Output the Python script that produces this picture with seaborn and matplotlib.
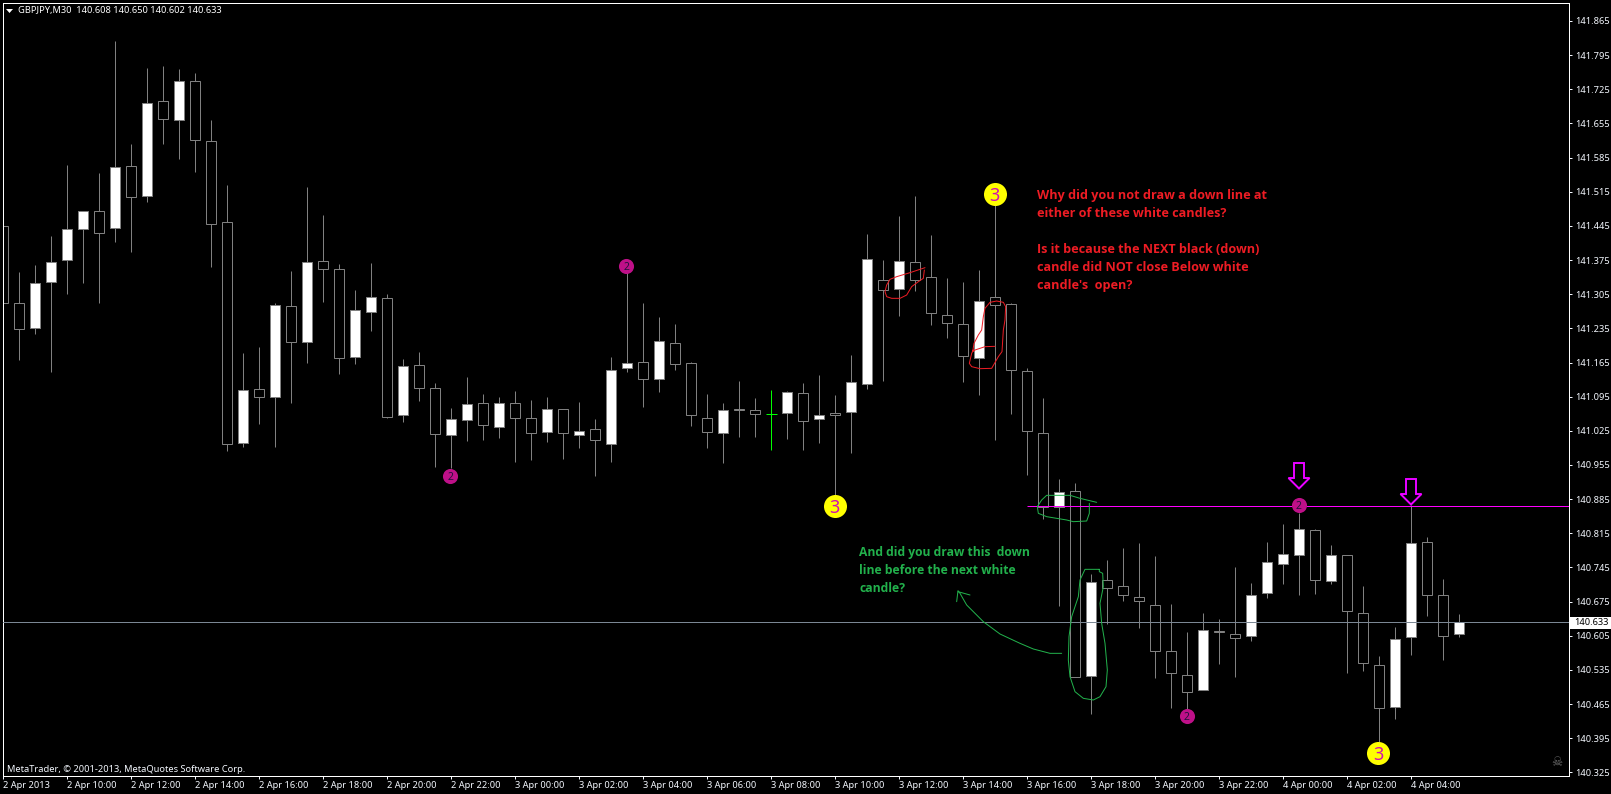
import matplotlib
matplotlib.use("Agg")
import matplotlib.pyplot as plt
from matplotlib.patches import Polygon, Rectangle
from matplotlib.transforms import Affine2D
import numpy as np
import pandas as pd
import seaborn as sns

W, H = 1611, 794

opens = [141.445,141.288,141.235,141.329,141.376,141.438,141.475,141.440,141.568,141.506,141.700,141.663,141.741,141.620,141.452,141.001,141.110,141.094,141.280,141.208,141.374,141.357,141.176,141.268,141.298,141.057,141.159,141.113,141.016,141.047,141.081,141.032,141.083,141.052,
         141.022,141.069,141.017,141.028,140.997,141.153,141.167,141.131,141.206,141.165,141.052,141.020,141.069,141.068,141.060,141.061,141.103,141.049,141.061,141.063,141.120,141.335,141.315,141.372,141.340,141.263,141.243,141.174,141.300,141.284,141.147,141.021,
         140.869,140.901,140.522,140.719,140.706,140.685,140.669,140.574,140.525,140.493,140.614,140.609,140.604,140.692,140.751,140.770,140.822,140.717,140.770,140.652,140.546,140.458,140.602,140.798,140.689,140.608]
highs = [141.491,141.350,141.364,141.424,141.570,141.475,141.553,141.823,141.612,141.768,141.773,141.766,141.758,141.663,141.528,141.184,141.196,141.286,141.352,141.524,141.467,141.366,141.313,141.368,141.305,141.172,141.186,141.122,141.071,141.135,141.100,141.095,141.106,141.088,
         141.094,141.069,141.085,141.049,141.176,141.355,141.288,141.258,141.243,141.167,141.100,141.083,141.128,141.092,141.108,141.106,141.124,141.139,141.098,141.180,141.428,141.375,141.465,141.506,141.426,141.338,141.331,141.354,141.488,141.286,141.153,141.092,
         140.926,140.918,140.731,140.760,140.784,140.795,140.768,140.670,140.613,140.652,140.639,140.746,140.714,140.798,140.833,140.857,140.823,140.790,140.770,140.706,140.563,140.622,140.873,140.807,140.721,140.650]
lows = [141.288,141.170,141.224,141.146,141.306,141.327,141.288,141.411,141.392,141.495,141.612,141.583,141.556,141.361,140.984,140.991,141.038,140.991,141.081,141.165,141.290,141.142,141.161,141.230,141.051,141.044,141.087,140.950,140.948,141.005,141.007,141.011,140.962,140.966,
        141.003,140.968,140.990,140.933,140.962,141.146,141.074,141.105,141.150,141.034,140.990,140.960,141.013,141.013,140.986,141.009,140.986,141.001,140.893,140.980,141.111,141.128,141.261,141.312,141.241,141.216,141.126,141.099,141.007,141.060,140.935,140.844,
        140.665,140.520,140.445,140.630,140.677,140.620,140.519,140.456,140.454,140.493,140.548,140.521,140.595,140.683,140.712,140.689,140.691,140.712,140.529,140.533,140.388,140.435,140.566,140.646,140.556,140.602]
closes = [141.288,141.233,141.327,141.372,141.439,141.475,141.430,141.566,141.504,141.696,141.665,141.743,141.622,141.448,140.999,141.109,141.094,141.282,141.208,141.372,141.356,141.174,141.273,141.300,141.053,141.157,141.112,141.018,141.050,141.079,141.036,141.081,141.051,141.020,
          141.070,141.020,141.025,141.006,141.150,141.165,141.131,141.210,141.161,141.057,141.022,141.068,141.067,141.059,141.060,141.105,141.046,141.058,141.057,141.126,141.378,141.313,141.374,141.335,141.266,141.247,141.178,141.292,141.282,141.149,141.024,140.868,
          140.899,140.520,140.716,140.702,140.688,140.676,140.573,140.528,140.489,140.617,140.613,140.600,140.689,140.757,140.773,140.824,140.719,140.771,140.655,140.550,140.456,140.599,140.796,140.688,140.604,140.633]

x_labels = ["2 Apr 2013","2 Apr 10:00","2 Apr 12:00","2 Apr 14:00","2 Apr 16:00","2 Apr 18:00","2 Apr 20:00","2 Apr 22:00",
            "3 Apr 00:00","3 Apr 02:00","3 Apr 04:00","3 Apr 06:00","3 Apr 08:00","3 Apr 10:00","3 Apr 12:00","3 Apr 14:00",
            "3 Apr 16:00","3 Apr 18:00","3 Apr 20:00","3 Apr 22:00","4 Apr 00:00","4 Apr 02:00","4 Apr 04:00"]
y_ticks = [141.865,141.795,141.725,141.655,141.585,141.515,141.445,141.375,141.305,141.235,141.165,141.095,141.025,
           140.955,140.885,140.815,140.745,140.675,140.605,140.535,140.465,140.395,140.325]
last_price = 140.633
level_price = 140.870
level_start = 64

two_x = [27.94,38.94,73.95,80.95]
two_y = [140.933,141.363,140.440,140.872]
three_x = [51.96,61.95,85.94]
three_y = [140.870,141.510,140.365]

red_lines = ["Why did you not draw a down line at","either of these white candles?","",
             "Is it because the NEXT black (down)","candle did NOT close Below white","candle's  open?"]
green_lines = ["And did you draw this  down","line before the next white","candle?"]

# freehand annotations, as (x, y) read in zoomed pixels of the screenshot
red_a = [(285,293),(270,298),(240,308),(200,320),(180,328),(170,345),(165,365),(170,380),(185,385),(210,385),(230,375),(245,350),(265,335),(280,325),(283,300)]
red_b = [(495,529),(465,530),(435,540),(428,545),(432,520),(445,495),(455,480),(460,440),(465,415),(480,397),(500,393),(520,397),(527,410),(525,450),(520,480),(516,545),(505,560),(485,595),(450,596),(425,590),(418,580),(425,550),(430,540)]
green_a = [(830,97),(780,85),(750,76),(680,76),(665,90),(652,110),(655,130),(680,140),(740,150),(760,155),(800,153),(808,130),(808,100)]
green_b = [(838,298),(795,298),(780,330),(775,380),(755,440),(747,500),(745,570),(750,620),(765,665),(790,685),(820,690),(840,680),(858,650),(862,600),(855,520),(845,460),(840,400),(850,350),(848,310),(838,305),(838,298)]
green_c = [(725,550),(690,550),(640,537),(600,520),(540,492),(490,455),(440,405),(420,370),(414,362),(410,395)]
green_d = [(414,365),(450,375)]

df = pd.DataFrame({"idx": np.arange(len(opens)), "o": opens, "h": highs, "l": lows, "c": closes})
df["bottom"] = df[["o", "c"]].min(axis=1)
df["body"] = (df["o"] - df["c"]).abs()

sns.set_theme(style="dark", rc={"axes.facecolor": "black", "figure.facecolor": "black",
                                "savefig.facecolor": "black", "axes.grid": False})
GREY = "#808080"
LIME = "#00ff00"
MAG = "#ff00ff"
LBL = "#f4f8ff"
FONT = ["Noto Sans", "DejaVu Sans"]
plt.rcParams["font.family"] = FONT

fig = plt.figure(figsize=(W / 100, H / 100), dpi=100)
ax = fig.add_axes([3 / W, (H - 776) / H, (1568.5 - 3) / W, (776 - 2.5) / H])
pix = Affine2D().scale(1, -1).translate(0, H)
px = 1 * 0.72

doji = df["o"] == df["c"]
ax.vlines(df.loc[~doji, "idx"], df.loc[~doji, "l"], df.loc[~doji, "h"], color=GREY, lw=px, zorder=1)
ax.vlines(df.loc[doji, "idx"], df.loc[doji, "l"], df.loc[doji, "h"], color=LIME, lw=px, zorder=1)
ax.hlines(df.loc[doji, "o"], df.loc[doji, "idx"] - 0.33, df.loc[doji, "idx"] + 0.33, color=LIME, lw=px, zorder=1)

up = df[(df["c"] > df["o"])]
down = df[(df["c"] < df["o"])]
for part, fill in ((up, "white"), (down, "black")):
    sns.barplot(data=part, x="idx", y="body", bottom=part["bottom"].values, native_scale=True,
                width=0.625, color=fill, saturation=1, edgecolor=GREY, linewidth=px,
                errorbar=None, ax=ax, zorder=2)

ax.set_xlim((3 - 3.4) / 16, (1568.5 - 3.4) / 16)
ax.set_ylim(140.3175, 141.9029)

ax.axhline(last_price, color="#7b8794", lw=px, zorder=3)

sns.scatterplot(x=two_x, y=two_y, s=118, color="#be1088", linewidth=0, ax=ax, zorder=5, legend=False)
sns.scatterplot(x=three_x, y=three_y, s=275, color="#ffff00", linewidth=0, ax=ax, zorder=5, legend=False)
for a, b in zip(two_x, two_y):
    ax.text(a, b, "2", color="#24103c", fontsize=7.5, fontweight="bold", ha="center", va="center_baseline", zorder=6)
for a, b in zip(three_x, three_y):
    ax.text(a, b, "3", color="#d010b0", fontsize=13, fontweight="bold", ha="center", va="center_baseline", zorder=6)
ax.hlines(level_price, level_start, ax.get_xlim()[1], color=MAG, lw=px, zorder=4)

def freehand(pts, ox, oy, col):
    xs = [ox + p[0] / 3 for p in pts]
    ys = [oy + p[1] / 3 for p in pts]
    ax.plot(xs, ys, color=col, lw=px, transform=pix, clip_on=False, zorder=7)

for seq in (red_a, red_b):
    freehand(seq, 830, 170, "#ed1c24")
for seq in (green_a, green_b, green_c, green_d):
    freehand(seq, 820, 470, "#22b14c")

def down_arrow(cx, y0):
    shape = [(cx-5,y0),(cx+5,y0),(cx+5,y0+15),(cx+10.5,y0+15),(cx,y0+25.5),(cx-10.5,y0+15),(cx-5,y0+15)]
    ax.add_patch(Polygon(shape, closed=True, fc="none", ec="#c800ff", lw=2.0*0.72, transform=pix, zorder=7))
    ax.add_patch(Polygon(shape, closed=True, fc="none", ec=MAG, lw=1.0*0.72, transform=pix, zorder=8))

down_arrow(1299, 463)
down_arrow(1411, 479)

for n, t in enumerate(red_lines):
    ax.text(1037.3, 195.3 + 18 * n, t, color="#ed1c24", fontsize=9.1, fontweight="bold",
            family="Open Sans", va="center", ha="left", transform=pix, zorder=9)
for n, t in enumerate(green_lines):
    ax.text(859, 552.7 + 18 * n, t, color="#22b14c", fontsize=8.7, fontweight="bold",
            family="Open Sans", va="center", ha="left", transform=pix, zorder=9)

# header, watermark and icon
ax.add_patch(Polygon([(6, 9), (13, 9), (9.5, 13)], closed=True, fc="white", ec="none", transform=pix, zorder=9))
ax.text(18, 11, "GBPJPY,M30  140.608 140.650 140.602 140.633", color="white", fontsize=6.7,
        va="center", ha="left", transform=pix, zorder=9)
ax.text(7, 769.5, "MetaTrader, © 2001-2013, MetaQuotes Software Corp.", color=LBL, fontsize=6.7,
        va="center", ha="left", transform=pix, zorder=9)
ax.text(1557, 762, "☠", color="#6a6a6a", fontsize=9, family="DejaVu Sans", va="center", ha="center", transform=pix, zorder=9)

# axes furniture
for s in ax.spines.values():
    s.set_visible(True)
    s.set_color("white")
    s.set_linewidth(px)
ax.set_xlabel("")
ax.set_ylabel("")
ax.set_xticks(np.arange(len(x_labels)) * 4)
ax.set_xticklabels(x_labels, ha="left")
ax.set_yticks(y_ticks)
ax.set_yticklabels([f"{v:.3f}" for v in y_ticks])
ax.yaxis.tick_right()
ax.tick_params(axis="both", which="major", colors=LBL, labelsize=6.7, length=2.2, width=px,
               direction="out", bottom=True, right=True, left=False, top=False)
ax.tick_params(axis="x", pad=1.5)
ax.tick_params(axis="y", pad=2.5)

# last price tag
fig.add_artist(Rectangle((1570, 617), 41, 11.5, transform=pix, fc="white", ec="none", zorder=10))
fig.text(1574, 622.8, f"{last_price:.3f}", color="black", fontsize=6.7, va="center", ha="left",
         transform=pix, zorder=11)

fig.savefig("out.png", dpi=100, facecolor="black")
